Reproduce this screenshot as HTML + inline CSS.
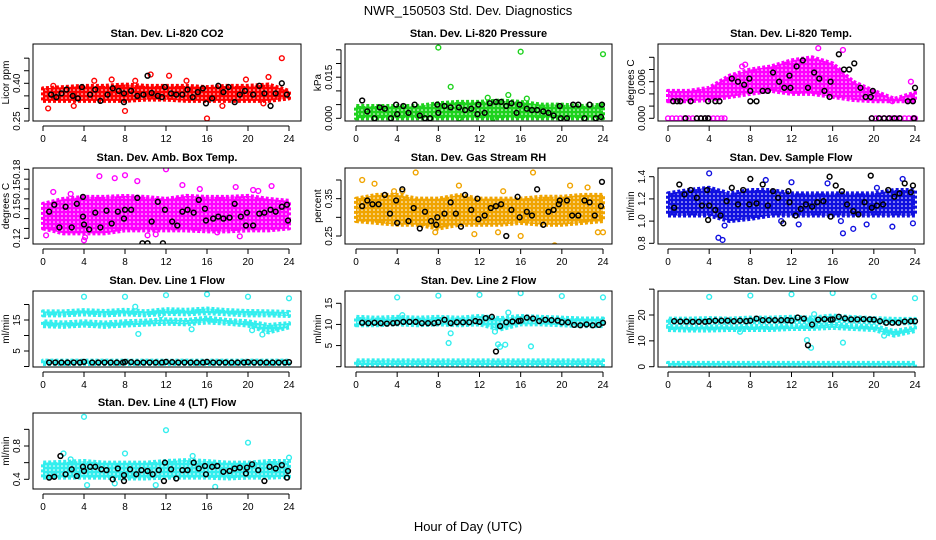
<!DOCTYPE html>
<html><head><meta charset="utf-8"><style>
html,body{margin:0;padding:0;background:#fff;}
svg{display:block;font-family:"Liberation Sans",sans-serif;}
</style></head><body>
<svg id="chart" width="936" height="540" viewBox="0 0 936 540">
<text x="468" y="15" text-anchor="middle" font-size="13">NWR_150503  Std. Dev. Diagnostics</text>
<text x="468" y="531" text-anchor="middle" font-size="13">Hour of Day (UTC)</text>
</svg>
<script>
// ---- shared axis data ----
const xTicks = [0,4,8,12,16,20,24];
const bandHours = [0,2,4,6,8,10,12,14,16,18,20,22,24];

// ---- P1 CO2 ----
const co2Lo = [0.33,0.33,0.33,0.33,0.33,0.335,0.335,0.33,0.33,0.33,0.33,0.33,0.34];
const co2Hi = [0.38,0.385,0.39,0.39,0.395,0.39,0.39,0.39,0.385,0.39,0.39,0.395,0.37];
const co2OutX = [0.5,1,5,6.7,8,10.5,12.3,14,16,19.8,22,23.3,21.5,3,9,17.5];
const co2OutY = [0.30,0.39,0.41,0.415,0.29,0.435,0.43,0.41,0.26,0.415,0.425,0.50,0.32,0.31,0.41,0.31];
const co2BlkX = [0.8,1.3,1.8,2.3,2.9,3.4,3.8,4.6,5.1,5.6,6.3,6.8,7.4,7.9,7.9,8.6,9.2,9.8,10.2,10.6,11.2,11.6,11.9,12.5,13,13.6,14.1,14.6,15.1,15.6,15.9,16.5,17.1,17.6,18.1,18.7,19.2,19.7,20.5,21.1,21.6,22.2,22.7,23.3,23.8];
const co2BlkY = [0.355,0.345,0.36,0.375,0.35,0.34,0.385,0.355,0.375,0.33,0.355,0.38,0.37,0.36,0.325,0.37,0.35,0.355,0.43,0.362,0.35,0.345,0.385,0.36,0.355,0.355,0.375,0.345,0.365,0.38,0.32,0.34,0.39,0.365,0.385,0.325,0.355,0.37,0.355,0.39,0.36,0.31,0.36,0.40,0.355];

// ---- P2 Pressure ----
const prLo = [0,0,0,0,0,0,0,0,0,0,0,0,0];
const prHi = [0.0045,0.0045,0.0045,0.0045,0.0055,0.006,0.006,0.0065,0.006,0.005,0.005,0.0045,0.005];
const prOutX = [8,16,24,9.2,12.8,14.8,16.6,10,13.3];
const prOutY = [0.0258,0.0243,0.0234,0.0115,0.0075,0.0085,0.0072,0.0,0.0];
const prBlkX = [0.6,1.1,1.8,2.3,2.8,3.4,3.9,4.0,4.6,5.1,5.7,6.2,6.7,7.2,7.9,8.0,8.6,9.2,10,10.6,11.2,11.8,11.9,12.5,13,13.6,14.1,14.6,15.1,15.6,15.9,16.6,17.1,17.6,18.2,18.7,19.2,19.8,19.9,20.5,21.1,21.6,22.2,22.7,23.3,23.8,23.9];
const prBlkY = [0.0065,0.0025,0,0.004,0.0035,0,0.005,0.0015,0.0045,0.002,0.005,0.001,0,0,0.005,0.002,0.0045,0.004,0.004,0.003,0.0035,0.0015,0.005,0.002,0.0055,0.006,0.006,0.0045,0.0055,0.002,0.005,0.0035,0.003,0.003,0.0025,0.002,0.001,0.0045,0,0,0.005,0.005,0,0.005,0,0.0005,0.005];

// ---- P3 Li-820 Temp ----
const tpLo = [0.0028,0.0028,0.003,0.0035,0.004,0.0045,0.004,0.004,0.0035,0.003,0.0028,0.0028,0.0028];
const tpHi = [0.0045,0.0045,0.005,0.007,0.008,0.0085,0.0095,0.010,0.009,0.006,0.0045,0.0032,0.0042];
const tpZeroX = [0,0.4,0.8,1.2,1.6,2,2.4,2.8,3.2,3.6,4,4.4,4.8,5.2,5.5,19.8,20.2,20.6,21,21.4,21.8,22.2,22.6,23,23.4,23.8,24];
const tpZeroY = [0,0,0,0,0,0,0,0,0,0,0,0,0,0,0,0,0,0,0,0,0,0,0,0,0,0,0];
const tpOutX = [7.2,7.5,14.6,17,11.5,21.8,23.6];
const tpOutY = [0.0085,0.0088,0.0115,0.0112,0.0088,0.0028,0.006];
const tpBlkX = [0.5,0.9,1.2,1.7,2.2,2.8,3.2,3.6,3.9,3.9,4.6,5.0,6.2,6.8,7.4,7.9,8.0,8.0,8.6,9.2,9.7,10.2,10.8,11.3,11.8,11.9,12.5,13.1,13.6,14.2,14.7,15.2,15.7,15.8,16.6,17.1,17.6,18.1,18.7,19.2,19.7,19.9,19.8,20.5,21,21.5,22,22.5,23.3,23.8,23.9,24];
const tpBlkY = [0.0028,0.0028,0.0028,0,0.0028,0,0,0,0,0.0028,0.0028,0.0028,0.0065,0.006,0.0055,0.0065,0.0045,0.0028,0.0028,0.0045,0.0045,0.0075,0.006,0.005,0.007,0.005,0.0085,0.0095,0.005,0.0075,0.0065,0.0045,0.0035,0.006,0.0105,0.008,0.008,0.009,0.005,0.0035,0.0035,0.0045,0,0,0,0,0,0,0.0028,0.0028,0,0.005];

// ---- P4 Amb Box Temp ----
const bxLo = [0.13,0.125,0.125,0.125,0.128,0.128,0.128,0.128,0.127,0.127,0.128,0.128,0.13];
const bxHi = [0.155,0.16,0.162,0.162,0.163,0.162,0.16,0.163,0.162,0.162,0.163,0.16,0.158];
const bxOutX = [0.3,1,4,4.1,5.5,7,8,9.2,12,13.6,17,18.8,19.2,20.5,22.3,15.3,11,10.2,21,2.7];
const bxOutY = [0.123,0.167,0.118,0.121,0.183,0.181,0.184,0.178,0.19,0.174,0.126,0.172,0.122,0.169,0.173,0.17,0.124,0.123,0.168,0.165];
const bxBlkX = [0.6,1.1,1.6,2.2,2.8,3.3,3.9,3.9,4.0,4.5,5.1,5.6,6.2,6.7,7.3,7.9,8.0,8.6,9.2,9.7,10.2,10.6,11.2,11.7,11.9,12.6,13.1,13.6,14.1,14.7,15.2,15.8,15.9,16.6,17.1,17.6,18.2,18.7,19.3,19.8,19.9,20.5,21.1,21.6,22.2,22.7,23.3,23.8,23.9];
const bxBlkY = [0.147,0.154,0.131,0.152,0.131,0.155,0.162,0.142,0.134,0.129,0.146,0.131,0.148,0.135,0.147,0.140,0.149,0.149,0.161,0.115,0.115,0.137,0.157,0.115,0.149,0.137,0.133,0.147,0.149,0.146,0.159,0.150,0.138,0.140,0.142,0.140,0.141,0.155,0.142,0.133,0.146,0.133,0.145,0.146,0.149,0.147,0.152,0.154,0.138];

// ---- P5 Gas Stream RH ----
const rhLo = [0.29,0.285,0.28,0.28,0.27,0.28,0.28,0.28,0.285,0.28,0.28,0.285,0.29];
const rhHi = [0.35,0.36,0.36,0.35,0.35,0.36,0.35,0.35,0.35,0.355,0.355,0.36,0.36];
const rhOutX = [0.6,1.8,4.5,5.8,10,14.3,17.2,19.3,20.8,22.5,23.5,24,3.7,11.5,13.8,16,7.7];
const rhOutY = [0.40,0.39,0.37,0.42,0.385,0.37,0.42,0.225,0.385,0.38,0.26,0.26,0.37,0.255,0.26,0.25,0.26];
const rhBlkX = [0.6,1.1,1.6,2.2,2.8,3.3,3.9,4.0,4.5,5.1,5.6,6.2,6.7,7.3,7.8,7.9,8.6,9.2,9.7,10.2,10.6,11.2,11.8,11.9,12.5,13.1,13.6,14.1,14.6,15.1,15.7,15.9,16.6,17.1,17.6,18.2,18.7,19.2,19.7,19.8,20.5,21,21.6,22.2,22.7,23.2,23.8,23.9];
const rhBlkY = [0.33,0.345,0.335,0.335,0.36,0.31,0.345,0.285,0.375,0.29,0.325,0.27,0.315,0.29,0.28,0.3,0.31,0.34,0.31,0.275,0.36,0.32,0.35,0.295,0.305,0.325,0.33,0.335,0.25,0.32,0.355,0.3,0.315,0.305,0.375,0.28,0.315,0.32,0.335,0.345,0.345,0.305,0.305,0.345,0.34,0.305,0.33,0.395];

// ---- P6 Sample Flow ----
const sfLo = [1.05,1.05,1.05,1.0,1.02,1.05,1.05,1.05,1.05,1.05,1.05,1.05,1.05];
const sfHi = [1.25,1.28,1.3,1.25,1.28,1.28,1.25,1.25,1.25,1.25,1.25,1.28,1.28];
const sfOutX = [4,4.9,5.3,5.5,9.5,11,12,15.5,17,18,19.3,20.3,21.8,22.8,23.8,12.7,16.8];
const sfOutY = [1.43,0.85,0.83,0.96,1.37,1.0,1.35,1.34,0.89,0.93,0.97,1.3,0.95,1.38,0.98,0.97,1.0];
const sfBlkX = [0.6,1.1,1.6,2.2,2.8,3.3,3.8,3.9,4.0,4.6,5.1,5.7,6.2,6.8,7.3,7.9,8.0,8.6,9.2,9.7,10.2,10.7,11.2,11.7,11.8,12.4,12.9,13.4,14,14.5,15.1,15.7,15.8,16.3,16.9,17.4,18,18.5,19.1,19.7,19.8,20.3,20.9,21.4,22,22.5,23,23.6,23.8];
const sfBlkY = [1.12,1.33,1.24,1.28,1.21,1.14,1.28,1.01,1.14,1.1,1.05,1.18,1.3,1.15,1.28,1.15,1.38,1.16,1.33,1.14,1.27,1.21,0.98,1.27,1.17,1.05,1.11,1.15,1.13,1.17,1.18,1.4,1.04,1.32,1.27,1.15,1.09,1.06,1.17,1.41,1.12,1.14,1.15,1.28,1.22,1.25,1.34,1.26,1.32];

// ---- P7 Line 1 Flow ----
const l1UpLo = [16.5,16.5,16.8,16.5,16.8,16.5,17,16.8,17.2,16.8,16.5,16.5,16.3];
const l1UpHi = [17.8,17.8,18.2,17.9,18.3,17.8,18.5,18.3,18.7,18.2,17.9,17.8,17.6];
const l1LoLo = [13,12.8,13.2,12.8,13.2,13.5,13.8,13.6,14.2,13.8,13.2,11,12.6];
const l1LoHi = [14.6,14.2,14.6,14.2,14.6,14.8,15.2,15,15.8,15,14.6,13.4,14];
const l1BotLo = [0.8,0.8,0.8,0.8,0.8,0.8,0.8,0.8,0.8,0.8,0.8,0.8,0.8];
const l1BotHi = [1.9,1.9,1.9,1.9,1.9,1.9,1.9,1.9,1.9,1.9,1.9,1.9,1.9];
const l1OutX = [4,8,12,16,20,24,9,9.3,14.5,20.4,21.4,11.5];
const l1OutY = [22.5,22.5,23,23.3,22.5,22,19.3,10.5,12,11.7,10.3,16.5];
const l1BlkX = [0.6,1.2,1.8,2.4,3,3.6,4,4.8,5.4,6,6.6,7.2,7.8,8,8.6,9.2,9.8,10.4,11,11.6,12,12.6,13.2,13.8,14.4,15,15.6,16,16.6,17.2,17.8,18.4,19,19.6,20,20.6,21.2,21.8,22.4,23,23.6,24];
const l1BlkY = [1.3,1.3,1.3,1.3,1.3,1.3,1.5,1.3,1.3,1.3,1.3,1.3,1.3,1.5,1.4,1.3,1.3,1.3,1.3,1.3,1.5,1.4,1.3,1.3,1.3,1.3,1.3,1.5,1.3,1.3,1.3,1.3,1.3,1.3,1.4,1.3,1.3,1.3,1.3,1.3,1.3,1.4];

// ---- P8 Line 2 Flow ----
const l2Lo = [9.8,9.8,10,9.8,10,9.8,10,8.8,10,10,9.8,9.6,9.6];
const l2Hi = [11.8,11.6,11.8,11.6,11.8,11.6,12,11.5,12,11.8,11.6,11.4,11.4];
const l2BotLo = [0.4,0.4,0.4,0.4,0.4,0.4,0.4,0.4,0.4,0.4,0.4,0.4,0.4];
const l2BotHi = [1.5,1.5,1.5,1.5,1.5,1.5,1.5,1.5,1.5,1.5,1.5,1.5,1.5];
const l2OutX = [4,8,12,16,20,24,9,9.2,13.5,13.8,14,14.5,17,4.5,14.8];
const l2OutY = [16.4,16.8,17,17.4,16.7,16.4,5.6,7.9,8.3,5.3,4.7,5.2,4.8,12.2,12.8];
const l2BlkX = [0.6,1.2,1.8,2.4,3,3.6,4,4.6,5.2,5.8,6.4,7,7.6,8,8.6,9.2,9.8,10.4,11,11.6,12,12.6,13.2,13.6,14,14.6,15.2,15.8,16,16.6,17.2,17.8,18.4,19,19.6,20,20.6,21.2,21.8,22.4,23,23.6,24];
const l2BlkY = [10.4,10.3,10.4,10.3,10.2,10.3,10.4,10.6,10.6,10.6,10.3,10.3,10.3,10.5,11.1,10.3,10.5,10.5,10.5,10.8,10.6,11.5,11.8,3.6,9.6,10.5,10.7,10.8,10.9,11.6,11.4,10.8,11.1,11,10.9,10.5,10.5,9.9,9.8,10,9.8,9.9,10.4];

// ---- P9 Line 3 Flow ----
const l3UpLo = [17,17,17,17,17.2,17.2,17.5,17,17.8,17.5,17,16.8,16.8];
const l3UpHi = [18.6,18.6,18.8,18.6,19,19,19.3,19,19.8,19.2,18.8,18.5,18.5];
const l3LoLo = [14.2,14,14,14.2,14.2,14.2,14.6,14.6,15,14.6,14.2,12,13.8];
const l3LoHi = [15.8,15.4,15.6,15.6,15.8,15.8,16,16,16.6,16,15.8,13.8,15.2];
const l3BotLo = [0.4,0.4,0.4,0.4,0.4,0.4,0.4,0.4,0.4,0.4,0.4,0.4,0.4];
const l3BotHi = [1.5,1.5,1.5,1.5,1.5,1.5,1.5,1.5,1.5,1.5,1.5,1.5,1.5];
const l3OutX = [4,8,12,16,20,24,13.5,13.9,14.2,17,7,21];
const l3OutY = [27,27.5,28,28.5,27.2,26.5,10.3,7.3,20.3,9.3,13.5,12];
const l3BlkX = [0.6,1.2,1.8,2.4,3,3.6,4,4.6,5.2,5.8,6.4,7,7.6,8,8.6,9.2,9.8,10.4,11,11.6,12,12.6,13.2,13.6,14,14.6,15.2,15.8,16,16.6,17.2,17.8,18.4,19,19.6,20,20.6,21.2,21.8,22.4,23,23.6,24];
const l3BlkY = [17.6,17.5,17.5,17.4,17.4,17.4,17.6,17.8,17.8,17.8,17.6,17.8,17.6,17.8,18.6,18,18,18,18,18,17.8,19,18.6,8.3,16.3,18.2,18.4,18.2,18.3,19.3,18.7,18.3,18.3,18.4,18.3,18.2,17.6,17,17,17,17.5,17.6,17.6];

// ---- P10 Line 4 Flow ----
const l4Lo = [0.42,0.42,0.42,0.42,0.41,0.41,0.42,0.42,0.42,0.41,0.42,0.42,0.43];
const l4Hi = [0.6,0.61,0.62,0.6,0.6,0.6,0.62,0.63,0.62,0.6,0.6,0.62,0.62];
const l4OutX = [4,12,20,2,8,4.3,11,16.8,14.6,7,24,2.7];
const l4OutY = [1.15,0.99,0.84,0.71,0.71,0.33,0.33,0.31,0.68,0.35,0.66,0.64];
const l4BlkX = [0.6,1.1,1.7,2.2,2.8,3.3,3.9,4.0,4.6,5.1,5.7,6.2,6.8,7.3,7.9,7.9,8.5,9.1,9.6,10.2,10.7,11.3,11.8,11.9,12.5,13,13.6,14.1,14.7,15.2,15.8,15.9,16.5,17,17.6,18.2,18.7,19.2,19.8,19.9,20.4,21,21.6,22.1,22.7,23.3,23.8,23.9];
const l4BlkY = [0.42,0.43,0.68,0.46,0.52,0.44,0.55,0.5,0.55,0.55,0.52,0.51,0.4,0.53,0.45,0.38,0.52,0.46,0.51,0.5,0.46,0.51,0.38,0.6,0.52,0.41,0.51,0.51,0.6,0.53,0.56,0.46,0.55,0.56,0.49,0.5,0.53,0.54,0.47,0.54,0.58,0.51,0.38,0.55,0.53,0.57,0.42,0.5];

// ---- tick arrays ----
const co2TickV = [0.25,0.30,0.35,0.40,0.45,0.50];
const co2TickL = ["0.25","","","0.40","",""];
const prTickV = [0,0.005,0.01,0.015,0.02,0.025];
const prTickL = ["0.000","","","0.015","",""];
const tpTickV = [0,0.002,0.004,0.006,0.008,0.010];
const tpTickL = ["0.000","","","0.006","",""];
const bxTickV = [0.12,0.13,0.14,0.15,0.16,0.17,0.18,0.19];
const bxTickL = ["0.12","","","0.15","","0.15","","0.18"];
const rhTickV = [0.25,0.30,0.35,0.40];
const rhTickL = ["0.25","","0.35",""];
const sfTickV = [0.8,1.0,1.2,1.4];
const sfTickL = ["0.8","1.0","1.2","1.4"];
const l1TickV = [0,5,10,15,20];
const l1TickL = ["","5","","15",""];
const l2TickV = [0,5,10,15];
const l2TickL = ["","5","10","15"];
const l3TickV = [0,10,20,30];
const l3TickL = ["0","10","20",""];
const l4TickV = [0.4,0.6,0.8,1.0];
const l4TickL = ["0.4","","0.8",""];

const C1={x0:33,x1:301,xp0:43,xp1:289}, C2={x0:345,x1:612,xp0:356,xp1:603}, C3={x0:658,x1:924,xp0:668,xp1:915};
const R1={y0:44,y1:121}, R2={y0:168,y1:244}, R3={y0:291,y1:367}, R4={y0:413,y1:489};

const panels = [
 {id:'co2',c:C1,r:R1,title:'Stan. Dev. Li-820 CO2',yt:'Licor ppm',ym:[0.25,121,0.40,83.3],tv:co2TickV,tl:co2TickL,col:'#ff0000',
  bands:[[co2Lo,co2Hi]],sc:[[co2OutX,co2OutY]],bk:[co2BlkX,co2BlkY]},
 {id:'pressure',c:C2,r:R1,title:'Stan. Dev. Li-820 Pressure',yt:'kPa',ym:[0,118.3,0.005,104.6],tv:prTickV,tl:prTickL,col:'#1ed21e',
  bands:[[prLo,prHi]],sc:[[prOutX,prOutY]],bk:[prBlkX,prBlkY]},
 {id:'li820-temp',c:C3,r:R1,title:'Stan. Dev. Li-820 Temp.',yt:'degrees C',ym:[0,118.3,0.006,81.7],tv:tpTickV,tl:tpTickL,col:'#ff00ff',
  bands:[[tpLo,tpHi]],sc:[[tpZeroX,tpZeroY],[tpOutX,tpOutY]],bk:[tpBlkX,tpBlkY]},
 {id:'box-temp',c:C1,r:R2,title:'Stan. Dev. Amb. Box Temp.',yt:'degrees C',ym:[0.12,238.3,0.19,169.3],tv:bxTickV,tl:bxTickL,col:'#ff00ff',
  bands:[[bxLo,bxHi]],sc:[[bxOutX,bxOutY]],bk:[bxBlkX,bxBlkY]},
 {id:'gas-rh',c:C2,r:R2,title:'Stan. Dev. Gas Stream RH',yt:'percent',ym:[0.25,236,0.40,180],tv:rhTickV,tl:rhTickL,col:'#f0a400',
  bands:[[rhLo,rhHi]],sc:[[rhOutX,rhOutY]],bk:[rhBlkX,rhBlkY]},
 {id:'sample-flow',c:C3,r:R2,title:'Stan. Dev. Sample Flow',yt:'ml/min',ym:[0.8,243.3,1.4,176.7],tv:sfTickV,tl:sfTickL,col:'#1010e0',
  bands:[[sfLo,sfHi]],sc:[[sfOutX,sfOutY]],bk:[sfBlkX,sfBlkY]},
 {id:'line1-flow',c:C1,r:R3,title:'Stan. Dev. Line 1 Flow',yt:'ml/min',ym:[0,366.5,20,304.5],tv:l1TickV,tl:l1TickL,col:'#33eeee',
  bands:[[l1UpLo,l1UpHi],[l1LoLo,l1LoHi],[l1BotLo,l1BotHi]],sc:[[l1OutX,l1OutY]],bk:[l1BlkX,l1BlkY]},
 {id:'line2-flow',c:C2,r:R3,title:'Stan. Dev. Line 2 Flow',yt:'ml/min',ym:[0,366.7,15,303.3],tv:l2TickV,tl:l2TickL,col:'#33eeee',
  bands:[[l2Lo,l2Hi],[l2BotLo,l2BotHi]],sc:[[l2OutX,l2OutY]],bk:[l2BlkX,l2BlkY]},
 {id:'line3-flow',c:C3,r:R3,title:'Stan. Dev. Line 3 Flow',yt:'ml/min',ym:[0,366.7,20,315],tv:l3TickV,tl:l3TickL,col:'#33eeee',
  bands:[[l3UpLo,l3UpHi],[l3LoLo,l3LoHi],[l3BotLo,l3BotHi]],sc:[[l3OutX,l3OutY]],bk:[l3BlkX,l3BlkY]},
 {id:'line4-flow',c:C1,r:R4,title:'Stan. Dev. Line 4 (LT) Flow',yt:'ml/min',ym:[0.4,479.3,0.8,446],tv:l4TickV,tl:l4TickL,col:'#33eeee',
  bands:[[l4Lo,l4Hi]],sc:[[l4OutX,l4OutY]],bk:[l4BlkX,l4BlkY]}
];

const NS='http://www.w3.org/2000/svg';
const svg=document.getElementById('chart');
function mk(tag,attrs,parent){const e=document.createElementNS(NS,tag);for(const k in attrs)e.setAttribute(k,attrs[k]);parent.appendChild(e);return e;}
const defs=mk('defs',{},svg);

panels.forEach(p=>{
 const g=mk('g',{},svg);
 
 
 const sx=x=>p.c.xp0+x/24*(p.c.xp1-p.c.xp0);
 const sy=v=>p.ym[1]+(v-p.ym[0])*(p.ym[3]-p.ym[1])/(p.ym[2]-p.ym[0]);
 const x0=p.c.x0,x1=p.c.x1,y0=p.r.y0,y1=p.r.y1;
 const clipId='clip-'+p.id;
 const cp=mk('clipPath',{id:clipId},defs); mk('rect',{x:x0,y:y0,width:x1-x0,height:y1-y0},cp);
 const patId='pat-'+p.id;
 const pat=mk('pattern',{id:patId,width:4,height:4,patternUnits:'userSpaceOnUse'},defs);
 mk('rect',{x:0,y:0,width:4,height:4,fill:p.col},pat);
 mk('circle',{cx:2,cy:2,r:0.8,fill:'#fff'},pat);
 const plot=mk('g',{'clip-path':'url(#'+clipId+')'},g);
 p.bands.forEach((b,bi)=>{
  const pts=bandHours.map((h,i)=>sx(h)+','+sy(b[0][i])).concat(bandHours.slice().reverse().map((h,i)=>sx(h)+','+sy(b[1][bandHours.length-1-i])));
  const poly=mk('polygon',{points:pts.join(' '),fill:'url(#'+patId+')',stroke:p.col,'stroke-width':4,'stroke-linejoin':'round','stroke-dasharray':'3 2'},plot);
  
  
 });
 p.sc.forEach(s=>{
  s[0].forEach((x,i)=>{
   const c=mk('circle',{cx:sx(x),cy:sy(s[1][i]),r:2.4,fill:'none',stroke:p.col,'stroke-width':1.4},plot);
   
   
  });
 });
 p.bk[0].forEach((x,i)=>{
  const c=mk('circle',{cx:sx(x),cy:sy(p.bk[1][i]),r:2.4,fill:'none',stroke:'#000','stroke-width':1.5},plot);
  
  
 });
 const box=mk('rect',{x:x0,y:y0,width:x1-x0,height:y1-y0,fill:'none',stroke:'#000','stroke-width':1},g);
 
 
 const t=mk('text',{x:(x0+x1)/2,y:y0-7,'text-anchor':'middle','font-size':11,'font-weight':'bold'},g);
 t.textContent=p.title;
 
 
 // x axis
 mk('line',{x1:sx(0),x2:sx(24),y1:y1+5,y2:y1+5,stroke:'#000'},g);
 xTicks.forEach(h=>{
  mk('line',{x1:sx(h),x2:sx(h),y1:y1+5,y2:y1+10,stroke:'#000'},g);
  const l=mk('text',{x:sx(h),y:y1+21,'text-anchor':'middle','font-size':10},g);
  l.textContent=h;
  
  
 });
 // y axis
 mk('line',{x1:x0-4,x2:x0-4,y1:sy(p.tv[0]),y2:sy(p.tv[p.tv.length-1]),stroke:'#000'},g);
 p.tv.forEach((v,i)=>{
  const yy=sy(v);
  mk('line',{x1:x0-9,x2:x0-4,y1:yy,y2:yy,stroke:'#000'},g);
  if(p.tl[i]){
   const l=mk('text',{x:x0-13,y:yy,'text-anchor':'middle','font-size':10,transform:'rotate(-90 '+(x0-13)+' '+yy+')'},g);
   l.textContent=p.tl[i];
   
   
  }
 });
 const ym=(y0+y1)/2;
 const yl=mk('text',{x:x0-24,y:ym,'text-anchor':'middle','font-size':10,transform:'rotate(-90 '+(x0-24)+' '+ym+')'},g);
 yl.textContent=p.yt;
 
 
});
</script>
</body></html>
